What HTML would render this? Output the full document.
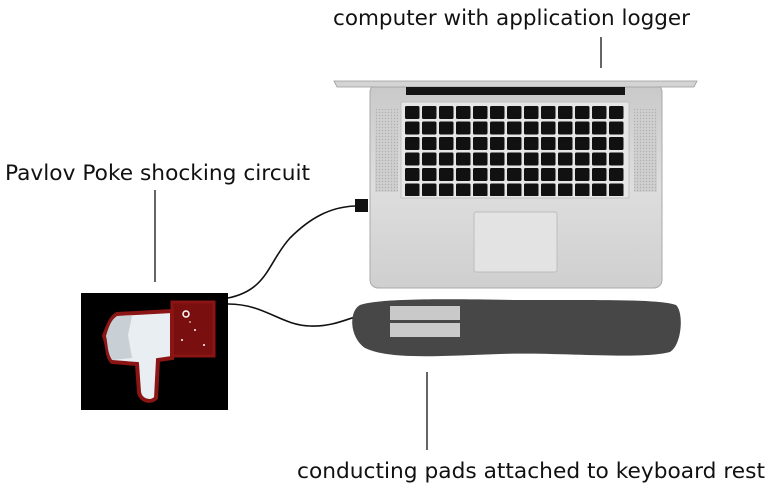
<!DOCTYPE html>
<html><head><meta charset="utf-8"><style>
html,body{margin:0;padding:0;background:#fff;}
svg{display:block;}
text{font-family:"DejaVu Sans","Liberation Sans",sans-serif;fill:#111;}
</style></head><body>
<svg width="770" height="490" viewBox="0 0 770 490" xmlns="http://www.w3.org/2000/svg">
<defs>
<linearGradient id="body" x1="0" y1="0" x2="0" y2="1">
<stop offset="0" stop-color="#c9c9c9"/><stop offset="0.5" stop-color="#dedede"/><stop offset="1" stop-color="#cfcfcf"/>
</linearGradient>
<pattern id="keys" x="404" y="105" width="17" height="15.5" patternUnits="userSpaceOnUse">
<rect x="1" y="1" width="14.5" height="13" rx="1.5" fill="#111"/>
</pattern>
<pattern id="grill" width="3" height="3" patternUnits="userSpaceOnUse">
<rect width="3" height="3" fill="#cfcfcf"/><circle cx="1.5" cy="1.5" r="0.7" fill="#b0b0b0"/>
</pattern>
</defs>

<text x="333" y="25" font-size="21.5" textLength="357" lengthAdjust="spacingAndGlyphs">computer with application logger</text>
<line x1="601" y1="37" x2="601" y2="68" stroke="#333" stroke-width="1.5"/>

<!-- laptop -->
<rect x="370" y="84" width="292" height="204" rx="8" fill="url(#body)" stroke="#aaa" stroke-width="1"/>
<path d="M334 81 L697 81 L694 87 L337 87 Z" fill="#d4d4d4" stroke="#999" stroke-width="0.8"/>
<rect x="406" y="87" width="219" height="8" fill="#151515"/>
<rect x="375" y="108" width="23" height="84" fill="url(#grill)"/>
<rect x="634" y="108" width="23" height="84" fill="url(#grill)"/>
<rect x="401" y="102" width="228" height="96" fill="#e6e6e6" stroke="#bbb" stroke-width="0.8"/>
<rect x="404" y="105" width="222" height="91" fill="url(#keys)"/>
<rect x="474" y="212" width="83" height="60" rx="2" fill="#e3e3e3" stroke="#bdbdbd"/>
<rect x="355" y="199" width="13" height="13" fill="#111"/>

<!-- cables -->
<path d="M228 298 C268 290 268 262 290 238 C310 218 330 207 355 206" fill="none" stroke="#111" stroke-width="1.6"/>
<path d="M228 304 C265 304 280 325 310 326 C330 327 345 320 358 316" fill="none" stroke="#111" stroke-width="1.6"/>

<!-- wrist rest -->
<path d="M360 305 C380 298 450 299 520 300 C600 300 660 299 676 305 C684 312 682 345 670 352 C640 360 560 352 500 354 C440 356 390 360 365 348 C350 338 348 312 360 305 Z" fill="#474747"/>
<rect x="390" y="306" width="70" height="14" fill="#c9c9c9"/>
<rect x="390" y="323" width="70" height="14" fill="#c9c9c9"/>

<!-- shock box -->
<text x="5" y="180" font-size="21.5" textLength="305" lengthAdjust="spacingAndGlyphs">Pavlov Poke shocking circuit</text>
<line x1="155" y1="190" x2="155" y2="282" stroke="#333" stroke-width="1.5"/>
<rect x="81" y="293" width="147" height="117" fill="#000"/>
<path d="M172 302 L214 302 L214 356 L172 356 Z" fill="#7a0f0f" stroke="#8b1515" stroke-width="3"/>
<path d="M117 314 L172 311 L172 358 L158 360 L156 398 C150 404 140 400 139 392 L137 364 L112 362 C106 356 108 344 104 336 C108 326 110 318 117 314 Z" fill="#e8eef1" stroke="#8b1515" stroke-width="4"/>
<path d="M117 316 L132 316 L128 335 L132 358 L112 360 C107 352 108 344 106 336 C109 326 111 320 117 316 Z" fill="#c8d0d6"/>
<circle cx="186" cy="314" r="3" fill="none" stroke="#fff" stroke-width="1.5"/>
<circle cx="195" cy="330" r="1" fill="#fff"/><circle cx="182" cy="340" r="1" fill="#fff"/><circle cx="204" cy="345" r="1" fill="#fff"/><circle cx="190" cy="322" r="0.8" fill="#fff"/>

<line x1="427" y1="372" x2="427" y2="450" stroke="#333" stroke-width="1.5"/>
<text x="297" y="478" font-size="21.5" textLength="468" lengthAdjust="spacingAndGlyphs">conducting pads attached to keyboard rest</text>
</svg>
</body></html>
